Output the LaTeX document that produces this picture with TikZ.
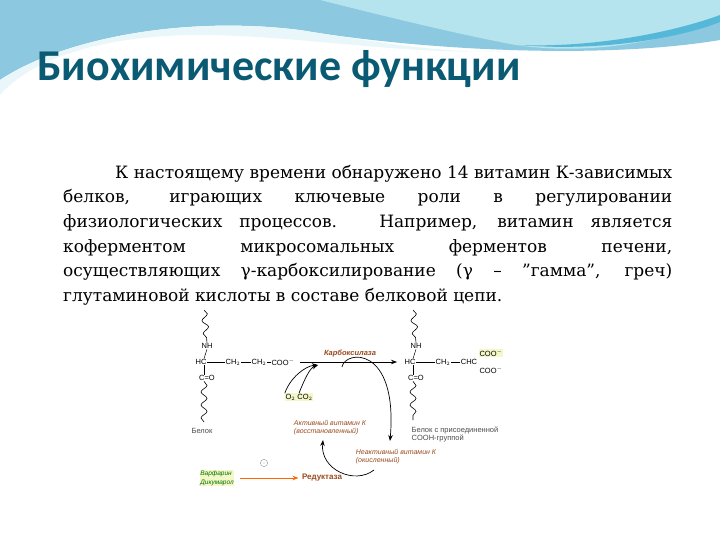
\documentclass[tikz,border=0pt]{standalone}
\usepackage{fontspec}
\setmainfont{DejaVu Serif}
\newfontfamily\ttl{Carlito}
\newfontfamily\lab{Liberation Sans}
\usetikzlibrary{arrows.meta,decorations.pathmorphing}
\definecolor{ttlc}{HTML}{0B5A73}
\definecolor{wav1}{HTML}{8CC8E0}
\definecolor{wav2}{HTML}{B5E3EE}
\definecolor{wav3}{HTML}{55B8D8}
\definecolor{brn}{HTML}{9A4A1E}
\definecolor{hl}{HTML}{F4F7C8}
\begin{document}
\begin{tikzpicture}[x=1pt,y=-1pt,
  chem/.style={font=\lab\fontsize{7.5}{8}\selectfont,inner sep=0.5pt},
  note/.style={font=\lab\itshape\fontsize{7}{8}\selectfont,text=brn,align=left,inner sep=0.5pt},
  wave/.style={decorate,decoration={snake,amplitude=3pt,segment length=13pt},line width=0.6pt},
  arr/.style={-{Stealth[length=6pt]},line width=0.7pt}]
\useasboundingbox (0,0) rectangle (720,540);
\fill[white] (0,0) rectangle (720,540);
% header waves
\fill[wav1] (0,0) -- (720,0) -- (720,40) .. controls (600,60) and (420,50) .. (300,30) .. controls (180,15) and (60,40) .. (0,80) -- cycle;
\fill[wav2] (320,0) -- (720,0) -- (720,20) .. controls (640,50) and (560,55) .. (500,42) .. controls (440,30) and (380,15) .. (320,0) -- cycle;
\fill[wav3] (520,45) .. controls (600,48) and (680,30) .. (720,15) -- (720,22) .. controls (680,38) and (600,52) .. (520,45) -- cycle;
\fill[white!70!wav2] (0,80) .. controls (60,40) and (180,15) .. (300,30) .. controls (420,50) and (480,55) .. (520,50) .. controls (420,58) and (300,35) .. (200,35) .. controls (100,35) and (30,60) .. (0,95) -- cycle;
\node[anchor=west,font=\ttl\bfseries\fontsize{44}{46}\selectfont,text=ttlc] (title) at (34,69) {Биохимические функции};
% body
\node[anchor=north west,text width=609pt,align=justify,font=\fontsize{17}{24.6}\selectfont,inner sep=0pt] (body) at (63,165)
{\hspace*{52pt}К настоящему времени обнаружено 14 витамин К-зависимых\linebreak белков, играющих ключевые роли в регулировании\linebreak физиологических процессов. Например, витамин является\linebreak коферментом микросомальных ферментов печени,\linebreak осуществляющих γ-карбоксилирование (γ – "гамма", греч)\linebreak глутаминовой кислоты в составе белковой цепи.};
% left structure
\node[chem] (nh1) at (207,346) {NH};
\node[chem] (hc1) at (201,362) {HC};
\node[chem] (ch1) at (233,362) {CH$_2$};
\node[chem] (ch2) at (259,362) {CH$_2$};
\node[chem] (coo1) at (283,362) {COO$^-$};
\node[chem] (co1) at (207,378) {C=O};
\draw[wave] (204,310) -- (nh1.north);
\draw[line width=0.5pt] (nh1.south) -- ([xshift=3pt]hc1.north);
\draw[line width=0.5pt] (hc1) -- (ch1) (ch1) -- (ch2) (ch2) -- (coo1);
\draw[line width=0.5pt] ([xshift=3pt]hc1.south) -- ([xshift=-3pt]co1.north);
\draw[wave] ([xshift=-3pt]co1.south) -- (204,422);
\node[chem,text=black!70] (b1) at (202,431) {Белок};
% right structure
\node[chem] (nh2) at (416,346) {NH};
\node[chem] (hc2) at (410,362) {HC};
\node[chem] (ch3) at (443,362) {CH$_2$};
\node[chem] (chc) at (469,362) {CHC};
\node[chem,fill=hl] (coo2) at (491,353) {COO$^-$};
\node[chem] (coo3) at (491,370) {COO$^-$};
\node[chem] (co2) at (416,378) {C=O};
\draw[wave] (413,310) -- (nh2.north);
\draw[line width=0.5pt] (nh2.south) -- ([xshift=3pt]hc2.north);
\draw[line width=0.5pt] (hc2) -- (ch3) (ch3) -- (chc);
\draw[line width=0.5pt] ([xshift=3pt]hc2.south) -- ([xshift=-3pt]co2.north);
\draw[wave] ([xshift=-3pt]co2.south) -- (413,420);
\node[chem,text=black!70,align=left] (b2) at (455,434) {Белок с присоединенной\\ COOH-группой};
% main arrow
\coordinate (a0) at (300,362);
\coordinate (a1) at (397,362);
\draw[arr] (a0) -- (a1);
\node[font=\lab\bfseries\itshape\fontsize{7.5}{8}\selectfont,text=brn] (carb) at (350,354) {Карбоксилаза};
\node[chem,fill=hl] (o2) at (299,397) {O$_2$ CO$_2$};
\coordinate (j) at (318,365);
\draw[arr] (o2.north west) .. controls (290,378) and (305,366) .. (j);
\draw[arr] (o2.north) .. controls (305,378) and (310,368) .. (j);
\node[note] (act) at (330,428) {Активный витамин К\\(восстановленный)};
\node[note] (inact) at (396,457) {Неактивный витамин К\\(окисленный)};
\coordinate (l0) at (342,367);
\coordinate (l1) at (390,441);
\draw[arr] (l0) .. controls (345,350) and (398,345) .. (l1);
\coordinate (m0) at (374,470);
\coordinate (m1) at (323,440);
\draw[arr] (m0) .. controls (355,485) and (320,470) .. (m1);
% bottom
\node[note,fill=hl,text=green!45!black,align=left,font=\lab\itshape\fontsize{6.5}{9}\selectfont] (warf) at (217,478) {Варфарин\\Дикумарол};
\node[draw=black!40,circle,inner sep=1.5pt,font=\lab\fontsize{4}{4}\selectfont,text=black!50] (ic) at (264,463) {::};
\node[font=\lab\bfseries\fontsize{8}{9}\selectfont,text=brn] (red) at (322,478) {Редуктаза};
\draw[-{Stealth[length=6pt]},line width=0.8pt,orange!80!red] (warf.east) ++(6,0) -- (red.west);
\end{tikzpicture}
\end{document}
